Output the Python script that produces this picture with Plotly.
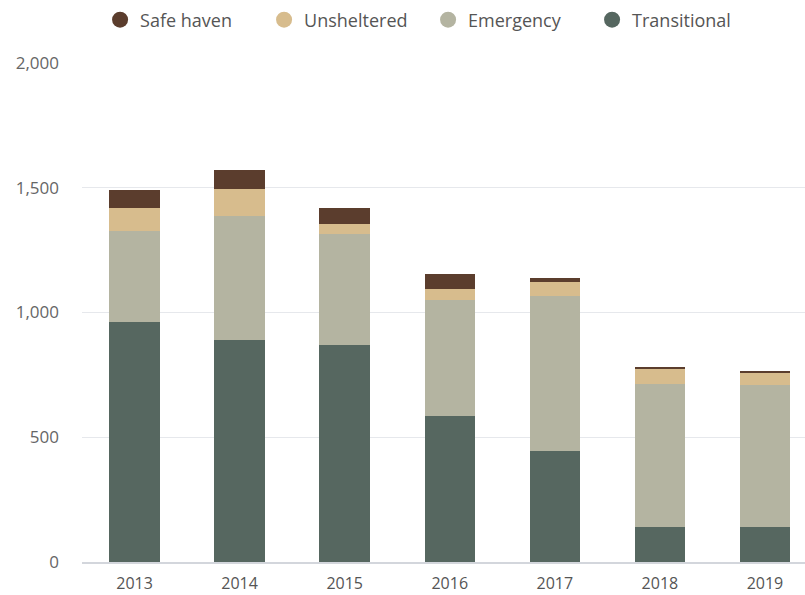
import plotly.graph_objects as go

# Homeless counts by shelter type, 2013-2019
years = ["2013", "2014", "2015", "2016", "2017", "2018", "2019"]
transitional = [960, 890, 870, 587, 446, 140, 140]
emergency = [365, 497, 443, 465, 620, 574, 570]
unsheltered = [95, 110, 43, 44, 58, 61, 51]
safe_haven = [69, 76, 62, 58, 16, 5, 6]

y_ticks = [0, 500, 1000, 1500, 2000]

series = [
    ("Transitional", transitional, "#566760"),
    ("Emergency", emergency, "#b4b4a1"),
    ("Unsheltered", unsheltered, "#d7bc8d"),
    ("Safe haven", safe_haven, "#5b3d2d"),
]

FONT = "'Open Sans', Lato, sans-serif"

fig = go.Figure()
for name, vals, color in series:
    fig.add_trace(go.Bar(
        x=years, y=vals, name=name, marker=dict(color=color, line=dict(width=0)),
        showlegend=False,
    ))

# Round legend keys, listed top-of-stack first
for name, vals, color in reversed(series):
    fig.add_trace(go.Scatter(
        x=[None], y=[None], mode="markers", name=name,
        marker=dict(symbol="circle", size=18, color=color),
    ))

fig.update_layout(
    width=805, height=595,
    margin=dict(l=82, r=0, t=63, b=33),
    barmode="stack",
    bargap=0.52,
    plot_bgcolor="white",
    paper_bgcolor="white",
    font=dict(family=FONT, size=17, color="#666"),
    legend=dict(
        orientation="h", traceorder="normal",
        entrywidth=119, entrywidthmode="pixels",
        x=0.025, xanchor="left", xref="paper",
        y=1 - 20 / 595, yanchor="middle", yref="container",
        font=dict(size=18, color="#555"), itemclick=False,
    ),
    xaxis=dict(
        type="category", range=[-0.5, 6.381], automargin=False,
        showline=True, linecolor="#d3d6dc", linewidth=1.5,
        showgrid=False, ticks="", tickfont=dict(size=16, color="#555"),
        ticklabelstandoff=6,
    ),
    yaxis=dict(
        range=[0, 2000], tickvals=y_ticks, tickformat=",", automargin=False,
        showgrid=True, gridcolor="#e6e8ec", gridwidth=1,
        zeroline=False, showline=False, ticks="",
        ticklabelstandoff=22,
        tickfont=dict(size=17, color="#666"),
    ),
)

fig.write_html("out.html")
